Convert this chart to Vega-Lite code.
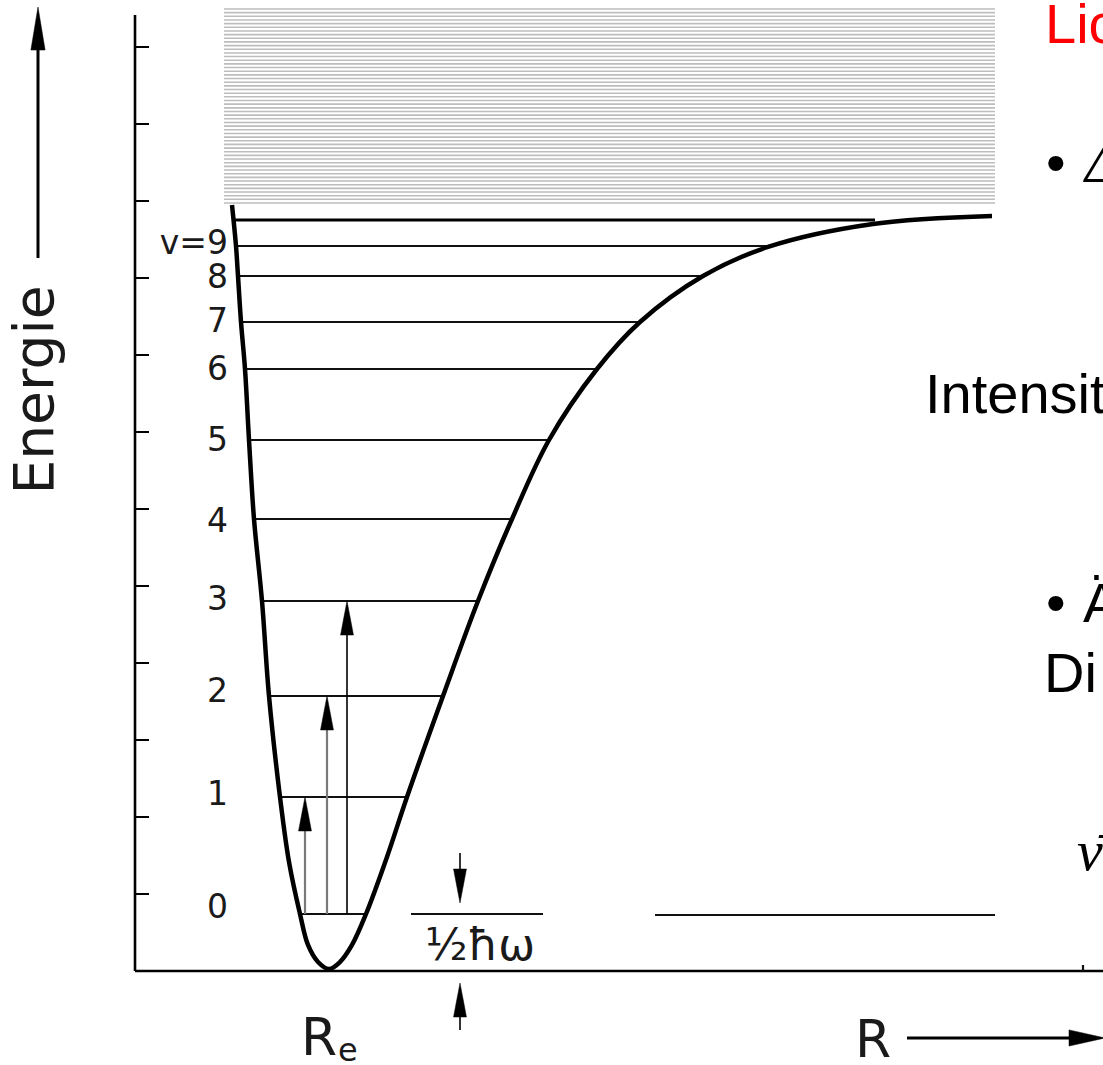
{
  "$schema": "https://vega.github.io/schema/vega-lite/v6.json",
  "width": 1103,
  "height": 1065,
  "autosize": "none",
  "padding": 0,
  "background": "white",
  "config": {"view": {"stroke": null}},
  "datasets": {
    "hatch": [{"E":12.494},{"E":12.446},{"E":12.399},{"E":12.351},{"E":12.304},{"E":12.256},{"E":12.208},{"E":12.161},{"E":12.113},{"E":12.066},{"E":12.018},{"E":11.971},{"E":11.923},{"E":11.876},{"E":11.828},{"E":11.781},{"E":11.733},{"E":11.685},{"E":11.638},{"E":11.590},{"E":11.543},{"E":11.495},{"E":11.448},{"E":11.400},{"E":11.353},{"E":11.305},{"E":11.258},{"E":11.210},{"E":11.163},{"E":11.115},{"E":11.068},{"E":11.020},{"E":10.972},{"E":10.925},{"E":10.877},{"E":10.830},{"E":10.782},{"E":10.735},{"E":10.687},{"E":10.640},{"E":10.592},{"E":10.545},{"E":10.497},{"E":10.450},{"E":10.402},{"E":10.354},{"E":10.307},{"E":10.259},{"E":10.212},{"E":10.164},{"E":10.117},{"E":10.069},{"E":10.022},{"E":9.974}],
    "curve": [
      {"R":0.97,"E":9.948},{"R":1.01,"E":9.416},{"R":1.03,"E":9.026},{"R":1.06,"E":8.429},{"R":1.10,"E":7.818},{"R":1.14,"E":6.896},{"R":1.19,"E":5.870},{"R":1.27,"E":4.805},{"R":1.34,"E":3.571},{"R":1.45,"E":2.260},{"R":1.54,"E":1.416},{"R":1.65,"E":0.740},{"R":1.73,"E":0.338},{"R":1.83,"E":0.117},{"R":1.94,"E":0.026},{"R":2.05,"E":0.117},{"R":2.17,"E":0.338},{"R":2.31,"E":0.740},{"R":2.52,"E":1.481},{"R":2.72,"E":2.260},{"R":3.08,"E":3.571},{"R":3.43,"E":4.805},{"R":3.77,"E":5.870},{"R":4.14,"E":6.896},{"R":4.62,"E":7.818},{"R":5.05,"E":8.429},{"R":5.68,"E":9.026},{"R":6.33,"E":9.403},{"R":7.38,"E":9.701},{"R":8.57,"E":9.805}
    ],
    "levels": [
      {"v":0,"R1":1.65,"R2":2.31,"E":0.740},
      {"v":1,"R1":1.45,"R2":2.72,"E":2.260},
      {"v":2,"R1":1.34,"R2":3.08,"E":3.571},
      {"v":3,"R1":1.27,"R2":3.43,"E":4.805},
      {"v":4,"R1":1.18,"R2":3.77,"E":5.870},
      {"v":5,"R1":1.14,"R2":4.14,"E":6.896},
      {"v":6,"R1":1.10,"R2":4.62,"E":7.818},
      {"v":7,"R1":1.06,"R2":5.05,"E":8.429},
      {"v":8,"R1":1.03,"R2":5.68,"E":9.026},
      {"v":9,"R1":1.02,"R2":6.33,"E":9.416}
    ],
    "limit": [{"R1":0.98,"R2":7.40,"E":9.753}],
    "frame": [
      {"R1":0,"R2":0,"E1":0,"E2":12.416},
      {"R1":0,"R2":9.68,"E1":0,"E2":0}
    ],
    "ticks": [{"E":1},{"E":2},{"E":3},{"E":4},{"E":5},{"E":6},{"E":7},{"E":8},{"E":9},{"E":10},{"E":11},{"E":12}],
    "refs": [
      {"R1":2.76,"R2":4.08,"E1":0.740,"E2":0.740},
      {"R1":5.20,"R2":8.60,"E1":0.727,"E2":0.727},
      {"R1":9.48,"R2":9.48,"E1":0,"E2":0.078}
    ],
    "shaftsGray": [
      {"R1":1.70,"R2":1.70,"E1":0.740,"E2":2.10},
      {"R1":1.92,"R2":1.92,"E1":0.740,"E2":3.40}
    ],
    "shaftsThin": [
      {"R1":2.12,"R2":2.12,"E1":0.740,"E2":4.70},
      {"R1":3.25,"R2":3.25,"E1":1.000,"E2":1.532},
      {"R1":3.25,"R2":3.25,"E1":-0.766,"E2":-0.250}
    ],
    "shaftsThick": [
      {"R1":-0.97,"R2":-0.97,"E1":9.260,"E2":12.20},
      {"R1":7.72,"R2":9.40,"E1":-0.870,"E2":-0.870}
    ],
    "headsUp": [
      {"R":1.70,"E":2.039},
      {"R":1.92,"E":3.351},
      {"R":2.12,"E":4.584},
      {"R":3.25,"E":-0.377}
    ],
    "headsDown": [{"R":3.25,"E":1.104}],
    "headEnergie": [{"R":-0.97,"E":12.240}],
    "headR": [{"R":9.52,"E":-0.870}],
    "vlabels": [
      {"label":"v=9","E":9.442},{"label":"8","E":9.0},{"label":"7","E":8.429},{"label":"6","E":7.805},{"label":"5","E":6.883},{"label":"4","E":5.831},{"label":"3","E":4.818},{"label":"2","E":3.623},{"label":"1","E":2.286},{"label":"0","E":0.818}
    ],
    "bigLabels": [
      {"text":"R","R":7.20,"E":-1.120},
      {"text":"R","R":1.66,"E":-1.085}
    ],
    "subLabels": [{"text":"e","R":2.03,"E":-1.170}],
    "hbar": [{"text":"½ħω","R":3.45,"E":0.143}],
    "axisTitle": [{"text":"Energie","R":-0.82,"E":7.5455}],
    "slideBlack": [
      {"text":"Intensit","R":7.90,"E":7.247},
      {"text":"•","R":9.11,"E":10.247},
      {"text":"•","R":9.11,"E":4.532},
      {"text":"Ä","R":9.48,"E":4.532},
      {"text":"Di","R":9.09,"E":3.623}
    ],
    "slideRed": [{"text":"Lic","R":9.10,"E":12.052}],
    "slideMath": [
      {"text":"Δ","R":9.50,"E":10.247},
      {"text":"ν̄","R":9.42,"E":1.312}
    ]
  },
  "layer": [
    {
      "data": {"name": "hatch"},
      "mark": {"type": "rule", "color": "#bdbdbd", "strokeWidth": 1.6},
      "encoding": {
        "x": {"datum": 0.89, "type": "quantitative", "scale": {"domain": [-1.35, 9.68], "nice": false, "zero": false}, "axis": null},
        "x2": {"datum": 8.60},
        "y": {"field": "E", "type": "quantitative", "scale": {"domain": [-1.2208, 12.6104], "nice": false, "zero": false}, "axis": null}
      }
    },
    {
      "data": {"name": "levels"},
      "mark": {"type": "rule", "color": "#111", "strokeWidth": 2},
      "encoding": {
        "x": {"field": "R1", "type": "quantitative", "scale": {"domain": [-1.35, 9.68], "nice": false, "zero": false}, "axis": null},
        "x2": {"field": "R2"},
        "y": {"field": "E", "type": "quantitative", "scale": {"domain": [-1.2208, 12.6104], "nice": false, "zero": false}, "axis": null}
      }
    },
    {
      "data": {"name": "limit"},
      "mark": {"type": "rule", "color": "#000", "strokeWidth": 3},
      "encoding": {
        "x": {"field": "R1", "type": "quantitative", "scale": {"domain": [-1.35, 9.68], "nice": false, "zero": false}, "axis": null},
        "x2": {"field": "R2"},
        "y": {"field": "E", "type": "quantitative", "scale": {"domain": [-1.2208, 12.6104], "nice": false, "zero": false}, "axis": null}
      }
    },
    {
      "data": {"name": "curve"},
      "mark": {"type": "line", "color": "#000", "strokeWidth": 4.5, "interpolate": "catmull-rom"},
      "encoding": {
        "x": {"field": "R", "type": "quantitative", "scale": {"domain": [-1.35, 9.68], "nice": false, "zero": false}, "axis": null},
        "y": {"field": "E", "type": "quantitative", "scale": {"domain": [-1.2208, 12.6104], "nice": false, "zero": false}, "axis": null}
      }
    },
    {
      "data": {"name": "frame"},
      "mark": {"type": "rule", "color": "#000", "strokeWidth": 2.6},
      "encoding": {
        "x": {"field": "R1", "type": "quantitative", "scale": {"domain": [-1.35, 9.68], "nice": false, "zero": false}, "axis": null},
        "x2": {"field": "R2"},
        "y": {"field": "E1", "type": "quantitative", "scale": {"domain": [-1.2208, 12.6104], "nice": false, "zero": false}, "axis": null},
        "y2": {"field": "E2"}
      }
    },
    {
      "data": {"name": "ticks"},
      "mark": {"type": "rule", "color": "#000", "strokeWidth": 2},
      "encoding": {
        "x": {"datum": 0, "type": "quantitative", "scale": {"domain": [-1.35, 9.68], "nice": false, "zero": false}, "axis": null},
        "x2": {"datum": 0.14},
        "y": {"field": "E", "type": "quantitative", "scale": {"domain": [-1.2208, 12.6104], "nice": false, "zero": false}, "axis": null}
      }
    },
    {
      "data": {"name": "refs"},
      "mark": {"type": "rule", "color": "#111", "strokeWidth": 2.2},
      "encoding": {
        "x": {"field": "R1", "type": "quantitative", "scale": {"domain": [-1.35, 9.68], "nice": false, "zero": false}, "axis": null},
        "x2": {"field": "R2"},
        "y": {"field": "E1", "type": "quantitative", "scale": {"domain": [-1.2208, 12.6104], "nice": false, "zero": false}, "axis": null},
        "y2": {"field": "E2"}
      }
    },
    {
      "data": {"name": "shaftsGray"},
      "mark": {"type": "rule", "color": "#7a7a7a", "strokeWidth": 2.2},
      "encoding": {
        "x": {"field": "R1", "type": "quantitative", "scale": {"domain": [-1.35, 9.68], "nice": false, "zero": false}, "axis": null},
        "x2": {"field": "R2"},
        "y": {"field": "E1", "type": "quantitative", "scale": {"domain": [-1.2208, 12.6104], "nice": false, "zero": false}, "axis": null},
        "y2": {"field": "E2"}
      }
    },
    {
      "data": {"name": "shaftsThin"},
      "mark": {"type": "rule", "color": "#000", "strokeWidth": 1.6},
      "encoding": {
        "x": {"field": "R1", "type": "quantitative", "scale": {"domain": [-1.35, 9.68], "nice": false, "zero": false}, "axis": null},
        "x2": {"field": "R2"},
        "y": {"field": "E1", "type": "quantitative", "scale": {"domain": [-1.2208, 12.6104], "nice": false, "zero": false}, "axis": null},
        "y2": {"field": "E2"}
      }
    },
    {
      "data": {"name": "shaftsThick"},
      "mark": {"type": "rule", "color": "#000", "strokeWidth": 3},
      "encoding": {
        "x": {"field": "R1", "type": "quantitative", "scale": {"domain": [-1.35, 9.68], "nice": false, "zero": false}, "axis": null},
        "x2": {"field": "R2"},
        "y": {"field": "E1", "type": "quantitative", "scale": {"domain": [-1.2208, 12.6104], "nice": false, "zero": false}, "axis": null},
        "y2": {"field": "E2"}
      }
    },
    {
      "data": {"name": "headsUp"},
      "mark": {"type": "point", "shape": "M0,-1L0.38,1L-0.38,1Z", "size": 1156, "filled": true, "fill": "#000", "stroke": "#000", "strokeWidth": 0.5, "opacity": 1},
      "encoding": {
        "x": {"field": "R", "type": "quantitative", "scale": {"domain": [-1.35, 9.68], "nice": false, "zero": false}, "axis": null},
        "y": {"field": "E", "type": "quantitative", "scale": {"domain": [-1.2208, 12.6104], "nice": false, "zero": false}, "axis": null}
      }
    },
    {
      "data": {"name": "headsDown"},
      "mark": {"type": "point", "shape": "M0,1L0.38,-1L-0.38,-1Z", "size": 1156, "filled": true, "fill": "#000", "stroke": "#000", "strokeWidth": 0.5, "opacity": 1},
      "encoding": {
        "x": {"field": "R", "type": "quantitative", "scale": {"domain": [-1.35, 9.68], "nice": false, "zero": false}, "axis": null},
        "y": {"field": "E", "type": "quantitative", "scale": {"domain": [-1.2208, 12.6104], "nice": false, "zero": false}, "axis": null}
      }
    },
    {
      "data": {"name": "headEnergie"},
      "mark": {"type": "point", "shape": "M0,-1L0.33,1L-0.33,1Z", "size": 1849, "filled": true, "fill": "#000", "stroke": "#000", "strokeWidth": 0.5, "opacity": 1},
      "encoding": {
        "x": {"field": "R", "type": "quantitative", "scale": {"domain": [-1.35, 9.68], "nice": false, "zero": false}, "axis": null},
        "y": {"field": "E", "type": "quantitative", "scale": {"domain": [-1.2208, 12.6104], "nice": false, "zero": false}, "axis": null}
      }
    },
    {
      "data": {"name": "headR"},
      "mark": {"type": "point", "shape": "M1,0L-1,0.45L-1,-0.45Z", "size": 1296, "filled": true, "fill": "#000", "stroke": "#000", "strokeWidth": 0.5, "opacity": 1},
      "encoding": {
        "x": {"field": "R", "type": "quantitative", "scale": {"domain": [-1.35, 9.68], "nice": false, "zero": false}, "axis": null},
        "y": {"field": "E", "type": "quantitative", "scale": {"domain": [-1.2208, 12.6104], "nice": false, "zero": false}, "axis": null}
      }
    },
    {
      "data": {"name": "vlabels"},
      "mark": {"type": "text", "font": "DejaVu Sans", "fontSize": 33, "align": "right", "baseline": "middle", "color": "#1a1a1a"},
      "encoding": {
        "x": {"datum": 0.93, "type": "quantitative", "scale": {"domain": [-1.35, 9.68], "nice": false, "zero": false}, "axis": null},
        "y": {"field": "E", "type": "quantitative", "scale": {"domain": [-1.2208, 12.6104], "nice": false, "zero": false}, "axis": null},
        "text": {"field": "label"}
      }
    },
    {
      "data": {"name": "bigLabels"},
      "mark": {"type": "text", "font": "DejaVu Sans", "fontSize": 52, "align": "left", "baseline": "alphabetic", "color": "#1a1a1a"},
      "encoding": {
        "x": {"field": "R", "type": "quantitative", "scale": {"domain": [-1.35, 9.68], "nice": false, "zero": false}, "axis": null},
        "y": {"field": "E", "type": "quantitative", "scale": {"domain": [-1.2208, 12.6104], "nice": false, "zero": false}, "axis": null},
        "text": {"field": "text"}
      }
    },
    {
      "data": {"name": "subLabels"},
      "mark": {"type": "text", "font": "DejaVu Sans", "fontSize": 32, "align": "left", "baseline": "alphabetic", "color": "#1a1a1a"},
      "encoding": {
        "x": {"field": "R", "type": "quantitative", "scale": {"domain": [-1.35, 9.68], "nice": false, "zero": false}, "axis": null},
        "y": {"field": "E", "type": "quantitative", "scale": {"domain": [-1.2208, 12.6104], "nice": false, "zero": false}, "axis": null},
        "text": {"field": "text"}
      }
    },
    {
      "data": {"name": "hbar"},
      "mark": {"type": "text", "font": "DejaVu Sans", "fontSize": 44, "align": "center", "baseline": "alphabetic", "color": "#1a1a1a"},
      "encoding": {
        "x": {"field": "R", "type": "quantitative", "scale": {"domain": [-1.35, 9.68], "nice": false, "zero": false}, "axis": null},
        "y": {"field": "E", "type": "quantitative", "scale": {"domain": [-1.2208, 12.6104], "nice": false, "zero": false}, "axis": null},
        "text": {"field": "text"}
      }
    },
    {
      "data": {"name": "axisTitle"},
      "mark": {"type": "text", "font": "DejaVu Sans", "fontSize": 55, "align": "center", "baseline": "alphabetic", "angle": 270, "color": "#1a1a1a"},
      "encoding": {
        "x": {"field": "R", "type": "quantitative", "scale": {"domain": [-1.35, 9.68], "nice": false, "zero": false}, "axis": null},
        "y": {"field": "E", "type": "quantitative", "scale": {"domain": [-1.2208, 12.6104], "nice": false, "zero": false}, "axis": null},
        "text": {"field": "text"}
      }
    },
    {
      "data": {"name": "slideBlack"},
      "mark": {"type": "text", "font": "Liberation Sans", "fontSize": 56, "align": "left", "baseline": "alphabetic", "color": "#000"},
      "encoding": {
        "x": {"field": "R", "type": "quantitative", "scale": {"domain": [-1.35, 9.68], "nice": false, "zero": false}, "axis": null},
        "y": {"field": "E", "type": "quantitative", "scale": {"domain": [-1.2208, 12.6104], "nice": false, "zero": false}, "axis": null},
        "text": {"field": "text"}
      }
    },
    {
      "data": {"name": "slideRed"},
      "mark": {"type": "text", "font": "Liberation Sans", "fontSize": 56, "align": "left", "baseline": "alphabetic", "color": "#ff0000"},
      "encoding": {
        "x": {"field": "R", "type": "quantitative", "scale": {"domain": [-1.35, 9.68], "nice": false, "zero": false}, "axis": null},
        "y": {"field": "E", "type": "quantitative", "scale": {"domain": [-1.2208, 12.6104], "nice": false, "zero": false}, "axis": null},
        "text": {"field": "text"}
      }
    },
    {
      "data": {"name": "slideMath"},
      "mark": {"type": "text", "font": "Liberation Serif", "fontStyle": "italic", "fontSize": 58, "align": "left", "baseline": "alphabetic", "color": "#000"},
      "encoding": {
        "x": {"field": "R", "type": "quantitative", "scale": {"domain": [-1.35, 9.68], "nice": false, "zero": false}, "axis": null},
        "y": {"field": "E", "type": "quantitative", "scale": {"domain": [-1.2208, 12.6104], "nice": false, "zero": false}, "axis": null},
        "text": {"field": "text"}
      }
    }
  ]
}
